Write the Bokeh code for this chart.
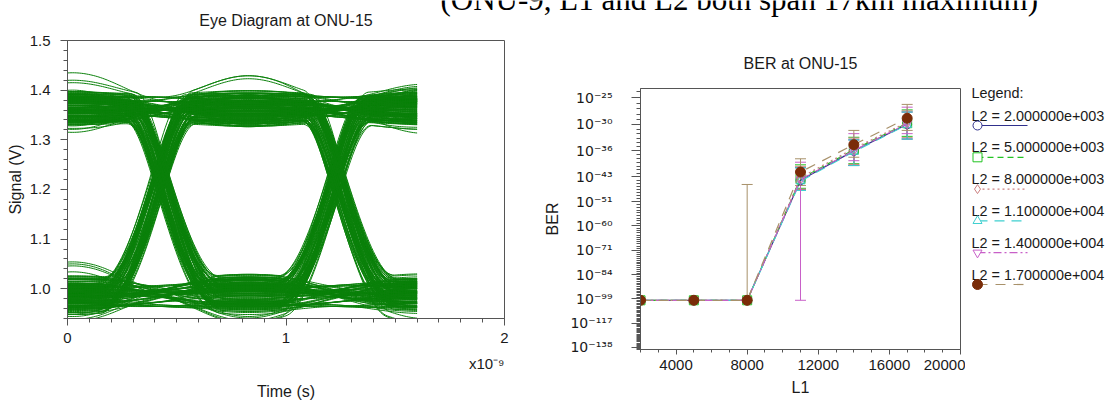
import numpy as np
from bokeh.plotting import figure
from bokeh.models import Range1d, FixedTicker, ColumnDataSource, Whisker, TeeHead, Title
from bokeh.layouts import row, column
from bokeh.embed import file_html
from bokeh.resources import INLINE
from bokeh.core.properties import value

SANS = "Liberation Sans"
SERIF = "Liberation Serif"
INK = "#1a1a1a"
FRAME = "#555555"
STRIP_H = 30

# ---------------- data: page caption ----------------
caption_text = "(ONU-9, L1 and L2 both span 17km maximum)"

# ---------------- data: eye diagram (ONU-15) ----------------
eye_title = "Eye Diagram at ONU-15"
eye_window_ns = [0.0, 1.6]
eye_crossings_ns = [0.426, 1.231]
eye_bit_period_ns = 0.805
eye_bit_patterns = [[0, 0, 0], [0, 0, 1], [0, 1, 0], [0, 1, 1],
                    [1, 0, 0], [1, 0, 1], [1, 1, 0], [1, 1, 1]]
eye_high_levels_V = [1.360, 1.372, 1.345, 1.385, 1.352, 1.366, 1.338, 1.390, 1.357, 1.378,
                     1.349, 1.363, 1.333, 1.370, 1.387, 1.355, 1.342, 1.375, 1.381, 1.361,
                     1.347, 1.382, 1.336, 1.368, 1.393, 1.353, 1.340, 1.376, 1.358, 1.374]
eye_low_levels_V = [0.990, 0.978, 1.004, 0.968, 0.995, 0.984, 1.012, 0.963, 0.998, 0.975,
                    1.008, 0.987, 1.018, 0.972, 0.960, 1.000, 1.014, 0.981, 0.966, 0.993,
                    1.020, 0.970, 1.006, 0.989, 0.962, 1.002, 1.010, 0.974, 0.992, 0.980]
eye_bump_V = [0.0, 0.006, -0.008, 0.012, -0.004, 0.009, -0.012, 0.004, 0.010, -0.006,
              0.002, -0.011, 0.042, 0.007, -0.010, 0.003, -0.005, 0.011, -0.002, 0.008,
              0.005, -0.009, 0.001, -0.007, 0.006, -0.040, 0.004, -0.003, 0.009, -0.008,
              0.002, 0.012, -0.006, 0.030, -0.001, 0.007, -0.012, 0.003, 0.010, -0.004]
eye_jitter_ns = [0.0, 0.012, -0.010, 0.022, -0.018, 0.006, -0.026, 0.016, -0.004, 0.028, -0.014, 0.009]
eye_x_ticks = [0, 1, 2]
eye_y_ticks = [1.0, 1.1, 1.2, 1.3, 1.4, 1.5]

# ---------------- data: BER at ONU-15 (BER = 10^-exponent) ----------------
ber_title = "BER at ONU-15"
L1_values = [2000, 5000, 8000, 11000, 14000, 17000]
L2_labels = ["L2 = 2.000000e+003", "L2 = 5.000000e+003", "L2 = 8.000000e+003",
             "L2 = 1.100000e+004", "L2 = 1.400000e+004", "L2 = 1.700000e+004"]
ber_exp_L2_2000 = [100, 100, 100, 44.0, 36.0, 30.0]
ber_exp_L2_5000 = [100, 100, 100, 43.6, 35.7, 29.8]
ber_exp_L2_8000 = [100, 100, 100, 43.2, 35.4, 29.6]
ber_exp_L2_11000 = [100, 100, 100, 44.3, 36.2, 30.1]
ber_exp_L2_14000 = [100, 100, 100, 43.8, 35.9, 29.9]
ber_exp_L2_17000 = [100, 100, 100, 41.6, 34.5, 28.8]
err_top_L2_2000 = [None, None, None, 40.4, 33.4, 27.6]
err_bot_L2_2000 = [None, None, None, 47.0, 39.8, 33.2]
err_top_L2_5000 = [None, None, None, 39.6, 32.8, 27.2]
err_bot_L2_5000 = [None, None, None, 46.5, 39.3, 32.6]
err_top_L2_8000 = [None, None, None, 40.0, 33.0, 27.4]
err_bot_L2_8000 = [None, None, None, 46.8, 39.5, 32.9]
err_top_L2_11000 = [None, None, None, 40.4, 33.4, 27.6]
err_bot_L2_11000 = [None, None, None, 47.2, 39.8, 33.2]
err_top_L2_14000 = [None, None, None, 38.9, 32.0, 26.7]
err_bot_L2_14000 = [None, None, None, 100, 38.5, 32.0]
err_top_L2_17000 = [None, None, 45.3, 38.0, 31.3, 26.2]
err_bot_L2_17000 = [None, None, 100, 45.6, 37.6, 31.3]
ber_tick_exponents = [25, 30, 36, 43, 51, 60, 71, 84, 99, 117, 138]
ber_range_exponents = [140, 23.5]
ber_x_ticks = [4000, 8000, 12000, 16000, 20000]

series_exp = [ber_exp_L2_2000, ber_exp_L2_5000, ber_exp_L2_8000,
              ber_exp_L2_11000, ber_exp_L2_14000, ber_exp_L2_17000]
series_top = [err_top_L2_2000, err_top_L2_5000, err_top_L2_8000,
              err_top_L2_11000, err_top_L2_14000, err_top_L2_17000]
series_bot = [err_bot_L2_2000, err_bot_L2_5000, err_bot_L2_8000,
              err_bot_L2_11000, err_bot_L2_14000, err_bot_L2_17000]
# style: (line colour, dash, marker, marker line colour, marker fill)
series_style = [
    ("#30308c", "solid", "circle", "#30308c", None),
    ("#22c322", "6 4", "square", "#22c322", None),
    ("#cc8080", "2 3", "diamond", "#cc8080", None),
    ("#3fd0d0", "10 7", "triangle", "#3fd0d0", None),
    ("#c860c8", "8 3 2 3", "inverted_triangle", "#c860c8", None),
    ("#a8916a", "10 8", "circle", "#7a2c08", "#7a2c08"),
]

SUP = str.maketrans("-0123456789", "⁻⁰¹²³⁴⁵⁶⁷⁸⁹")


def ber_y(exponent):
    return -np.log10(np.asarray(exponent, dtype=float))


# ---------------- eye traces rendered from bit patterns and levels ----------------
EDGE_LEAD_NS, EDGE_TRAIL_NS, CROSS_FRAC = 0.26, 0.14, 0.65
t_ns = np.linspace(eye_window_ns[0], eye_window_ns[1], 201)
slot_centres = [eye_crossings_ns[0] - eye_bit_period_ns / 2,
                (eye_crossings_ns[0] + eye_crossings_ns[1]) / 2,
                eye_crossings_ns[1] + eye_bit_period_ns / 2]


def rise_frac(u):
    u = np.asarray(u, dtype=float)
    left = CROSS_FRAC * (1 - np.cos(np.pi / 2 * np.clip((u + EDGE_LEAD_NS) / EDGE_LEAD_NS, 0, 1)))
    right = CROSS_FRAC + (1 - CROSS_FRAC) * np.sin(np.pi / 2 * np.clip(u / EDGE_TRAIL_NS, 0, 1))
    return np.where(u <= 0, left, right)


def settle_frac(u):
    return 0.5 - 0.5 * np.cos(np.pi * np.clip((np.asarray(u) + 0.3) / 0.6, 0, 1))


def bump_shape(t, c):
    d = np.clip((t - c) / eye_bit_period_ns, -0.5, 0.5)
    return np.cos(np.pi * d) ** 2


def eye_trace(bits, levels, bumps, jit):
    v = np.full_like(t_ns, levels[0])
    for k, tc in enumerate(eye_crossings_ns):
        u = t_ns - (tc + jit[k])
        if bits[k + 1] > bits[k]:
            f = rise_frac(u)
        elif bits[k + 1] < bits[k]:
            f = 1 - rise_frac(-u)
        else:
            f = settle_frac(u)
        v = v + (levels[k + 1] - levels[k]) * f
    for k, c in enumerate(slot_centres):
        v = v + bumps[k] * bump_shape(t_ns, c)
    return v


eye_xs, eye_ys = [], []
nH, nL, nB, nJ = len(eye_high_levels_V), len(eye_low_levels_V), len(eye_bump_V), len(eye_jitter_ns)
for pi_, bits in enumerate(eye_bit_patterns):
    for j in range(36):
        levels, bumps = [], []
        for k, b in enumerate(bits):
            idx = j * 7 + k * 11 + pi_ * 3
            levels.append(eye_high_levels_V[idx % nH] if b else eye_low_levels_V[idx % nL])
            bumps.append(eye_bump_V[(j * 5 + k * 13 + pi_ * 7) % nB])
        jit = [eye_jitter_ns[(j * 5 + k * 3 + pi_) % nJ] for k in range(2)]
        eye_xs.append(t_ns)
        eye_ys.append(eye_trace(bits, levels, bumps, jit))


def style_axis(ax, major_out, minor_out, label_size="15px", title_size="16px"):
    ax.major_tick_in = 0
    ax.minor_tick_in = 0
    ax.major_tick_out = major_out
    ax.minor_tick_out = minor_out
    ax.axis_line_color = FRAME
    ax.major_tick_line_color = FRAME
    ax.minor_tick_line_color = FRAME
    ax.major_label_text_font = SANS
    ax.major_label_text_font_size = label_size
    ax.major_label_text_color = INK
    ax.axis_label_text_font = SANS
    ax.axis_label_text_font_size = title_size
    ax.axis_label_text_font_style = "normal"
    ax.axis_label_text_color = INK


# ---------------- strip with caption and eye title ----------------
strip = figure(width=1110, height=STRIP_H, x_range=Range1d(0, 1110), y_range=Range1d(STRIP_H, 0),
               output_backend="svg", toolbar_location=None, title=None,
               x_axis_type=None, y_axis_type=None, min_border=0, outline_line_color=None)
strip.grid.visible = False
strip.text(x=[440], y=[-1.5], text=[caption_text], text_font=value(SERIF), text_font_size="31px",
           text_align="left", text_baseline="middle", text_color="#000000")
strip.text(x=[285.5], y=[20], text=[eye_title], text_font=value(SANS), text_font_size="16px",
           text_align="center", text_baseline="middle", text_color=INK)

# ---------------- eye diagram ----------------
PLOT_H = 401 - STRIP_H
eye = figure(width=530, height=PLOT_H, x_range=Range1d(0, 2), y_range=Range1d(0.94, 1.5),
             output_backend="svg", toolbar_location=None, title=None,
             min_border_left=67, min_border_right=26, min_border_top=40 - STRIP_H, min_border_bottom=82,
             outline_line_color=FRAME)
eye.grid.visible = False
eye.multi_line(xs=eye_xs, ys=eye_ys, line_color="#0b800b", line_width=1.0)
eye.xaxis.ticker = FixedTicker(ticks=eye_x_ticks, minor_ticks=[i / 10 for i in range(21)])
eye.xaxis.major_label_overrides = {t: str(t) for t in eye_x_ticks}
eye.yaxis.ticker = FixedTicker(ticks=eye_y_ticks, minor_ticks=[round(0.94 + 0.02 * i, 2) for i in range(29)])
eye.yaxis.major_label_overrides = {t: f"{t:.1f}" for t in eye_y_ticks}
eye.yaxis.axis_label = "Signal (V)"
style_axis(eye.xaxis[0], 7, 4)
style_axis(eye.yaxis[0], 7, 4)
eye.xaxis.major_label_standoff = 7
eye.yaxis.major_label_standoff = 10
eye.yaxis.axis_label_standoff = 3
eye.add_layout(Title(text="x10" + "-9".translate(SUP), align="right", text_font=SANS,
                     text_font_size="15px", text_font_style="normal", text_color=INK, standoff=14), "below")
eye.add_layout(Title(text="Time (s)", align="center", text_font=SANS,
                     text_font_size="16px", text_font_style="normal", text_color=INK, standoff=4), "below")

# ---------------- BER plot ----------------
ber = figure(width=435, height=PLOT_H, x_range=Range1d(2000, 20000),
             y_range=Range1d(float(ber_y(ber_range_exponents[0])), float(ber_y(ber_range_exponents[1]))),
             output_backend="svg", toolbar_location=None, title=ber_title,
             min_border_left=110, min_border_right=5, min_border_top=88 - STRIP_H, min_border_bottom=52,
             outline_line_color=FRAME)
ber.grid.visible = False
ber.title.align = "center"
ber.title.text_font = SANS
ber.title.text_font_size = "16px"
ber.title.text_font_style = "normal"
ber.title.text_color = INK
ber.title.standoff = 33

for tops, bots, (lc, dash, mk, mlc, mfc) in zip(series_top, series_bot, series_style):
    base = [x for x, a in zip(L1_values, tops) if a is not None]
    up = [float(ber_y(a)) for a in tops if a is not None]
    lo = [float(ber_y(b)) for b in bots if b is not None]
    if base:
        src = ColumnDataSource(dict(base=base, upper=up, lower=lo))
        ber.add_layout(Whisker(source=src, base="base", upper="upper", lower="lower",
                               line_color=lc, line_width=1,
                               upper_head=TeeHead(size=11, line_color=lc, line_width=1),
                               lower_head=TeeHead(size=11, line_color=lc, line_width=1)))
for exps, (lc, dash, mk, mlc, mfc) in zip(series_exp, series_style):
    ys = ber_y(exps)
    ber.line(L1_values, ys, line_color=lc, line_dash=dash, line_width=1.2)
    ber.scatter(L1_values, ys, marker=mk, size=10 if mfc else 9, line_color=mlc,
                fill_color=mfc if mfc else "white", fill_alpha=1.0 if mfc else 0.0, line_width=1)

major_pos = [float(ber_y(e)) for e in ber_tick_exponents]
minor_pos = [float(ber_y(e)) for e in range(20, 142) if e not in ber_tick_exponents]
ber.yaxis.ticker = FixedTicker(ticks=major_pos, minor_ticks=minor_pos)
ber.yaxis.major_label_overrides = {p: "10" + f"-{e}".translate(SUP) for p, e in zip(major_pos, ber_tick_exponents)}
ber.xaxis.ticker = FixedTicker(ticks=ber_x_ticks, minor_ticks=list(range(2000, 20001, 1000)))
ber.xaxis.axis_label = "L1"
ber.yaxis.axis_label = "BER"
style_axis(ber.xaxis[0], 5, 3)
style_axis(ber.yaxis[0], 9, 4)
ber.yaxis.major_label_text_font = "DejaVu Sans"
ber.yaxis.major_label_text_font_size = "14px"
ber.xaxis.major_label_standoff = 5
ber.xaxis.axis_label_standoff = 6
ber.yaxis.major_label_standoff = 19
ber.yaxis.axis_label_standoff = 6

# ---------------- legend panel ----------------
leg = figure(width=145, height=PLOT_H, x_range=Range1d(965, 1110), y_range=Range1d(401, STRIP_H),
             output_backend="svg", toolbar_location=None, title=None,
             x_axis_type=None, y_axis_type=None, min_border=0, outline_line_color=None)
leg.grid.visible = False
leg.text(x=[971], y=[92], text=["Legend:"], text_font=value(SANS), text_font_size="14.4px",
         text_baseline="middle", text_color=INK)
for i, (lab, (lc, dash, mk, mlc, mfc)) in enumerate(zip(L2_labels, series_style)):
    ty = 115 + 31.8 * i
    sy = ty + 10
    leg.text(x=[971], y=[ty], text=[lab], text_font=value(SANS), text_font_size="14.4px",
             text_baseline="middle", text_color=INK)
    leg.line([977, 1027], [sy, sy], line_color=lc, line_dash=dash, line_width=1.2)
    leg.scatter([977], [sy], marker=mk, size=10 if mfc else 9, line_color=mlc,
                fill_color=mfc if mfc else "white", line_width=1)

layout = column(strip, row(column(eye), column(ber), column(leg)))

open("out.html", "w").write(file_html(layout, INLINE, title="ONU-15"))
